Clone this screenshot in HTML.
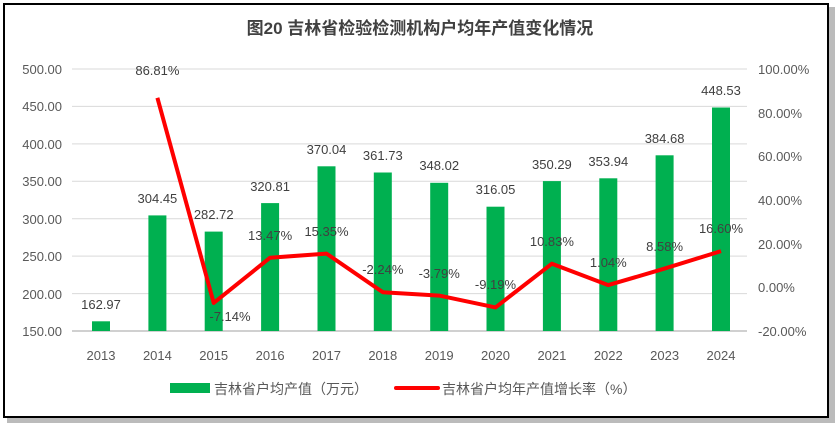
<!DOCTYPE html>
<html><head><meta charset="utf-8"><style>
body{margin:0;background:#fff;}
svg{display:block;font-family:"Liberation Sans","Noto Sans CJK SC",sans-serif;}
</style></head><body>
<svg width="840" height="429" viewBox="0 0 840 429">
<rect x="7" y="7" width="828" height="416" fill="#bbb"/>
<rect x="4" y="4" width="824" height="413" fill="#fff" stroke="#000" stroke-width="2"/>
<text x="420" y="34" text-anchor="middle" font-size="17" font-weight="bold" fill="#404040" font-family="'Liberation Sans','Noto Sans CJK SC',sans-serif">图20  吉林省检验检测机构户均年产值变化情况</text>
<g stroke="#d9d9d9" stroke-width="1">
<line x1="72" x2="747" y1="69" y2="69"/><line x1="72" x2="747" y1="106.4" y2="106.4"/><line x1="72" x2="747" y1="143.9" y2="143.9"/><line x1="72" x2="747" y1="181.3" y2="181.3"/><line x1="72" x2="747" y1="218.7" y2="218.7"/><line x1="72" x2="747" y1="256.1" y2="256.1"/><line x1="72" x2="747" y1="293.6" y2="293.6"/>
</g>
<line x1="72" x2="747" y1="331" y2="331" stroke="#d0d0d0" stroke-width="2"/>
<g font-size="13" fill="#595959" text-anchor="end">
<text x="62" y="74">500.00</text><text x="62" y="111">450.00</text><text x="62" y="149">400.00</text><text x="62" y="186">350.00</text><text x="62" y="224">300.00</text><text x="62" y="261">250.00</text><text x="62" y="299">200.00</text><text x="62" y="336">150.00</text>
</g>
<g font-size="13" fill="#595959" text-anchor="start">
<text x="758" y="74">100.00%</text><text x="758" y="118">80.00%</text><text x="758" y="161">60.00%</text><text x="758" y="205">40.00%</text><text x="758" y="249">20.00%</text><text x="758" y="292">0.00%</text><text x="758" y="336">-20.00%</text>
</g>
<g fill="#00b050">
<rect x="92" y="321.3" width="18" height="9.7"/>
<rect x="148.4" y="215.4" width="18" height="115.6"/>
<rect x="204.7" y="231.6" width="18" height="99.4"/>
<rect x="261.1" y="203.1" width="18" height="127.9"/>
<rect x="317.5" y="166.3" width="18" height="164.7"/>
<rect x="373.8" y="172.5" width="18" height="158.5"/>
<rect x="430.2" y="182.8" width="18" height="148.2"/>
<rect x="486.5" y="206.7" width="18" height="124.3"/>
<rect x="542.9" y="181.1" width="18" height="149.9"/>
<rect x="599.3" y="178.3" width="18" height="152.7"/>
<rect x="655.6" y="155.3" width="18" height="175.7"/>
<rect x="712" y="107.5" width="18" height="223.5"/>
</g>
<g font-size="13" fill="#595959" text-anchor="middle">
<text x="101" y="360">2013</text><text x="157.4" y="360">2014</text><text x="213.7" y="360">2015</text><text x="270.1" y="360">2016</text><text x="326.5" y="360">2017</text><text x="382.8" y="360">2018</text><text x="439.2" y="360">2019</text><text x="495.5" y="360">2020</text><text x="551.9" y="360">2021</text><text x="608.3" y="360">2022</text><text x="664.6" y="360">2023</text><text x="721" y="360">2024</text>
</g>
<g font-size="13" fill="#404040" text-anchor="middle">
<text x="101" y="309">162.97</text><text x="157.4" y="203">304.45</text><text x="213.7" y="219">282.72</text><text x="270.1" y="191">320.81</text><text x="326.5" y="154">370.04</text><text x="382.8" y="160">361.73</text><text x="439.2" y="170">348.02</text><text x="495.5" y="194">316.05</text><text x="551.9" y="169">350.29</text><text x="608.3" y="166">353.94</text><text x="664.6" y="143">384.68</text><text x="721" y="95">448.53</text>
</g>
<polyline fill="none" stroke="#ff0000" stroke-width="4" stroke-linejoin="round" points="157.4,97.8 213.7,302.9 270.1,257.7 326.5,253.6 382.8,292.2 439.2,295.6 495.5,307.4 551.9,263.7 608.3,285.1 664.6,268.6 721,251.1"/>
<g font-size="13" fill="#404040" text-anchor="middle">
<text x="157.4" y="75">86.81%</text><text x="230" y="321">-7.14%</text><text x="270.1" y="240">13.47%</text><text x="326.5" y="236">15.35%</text><text x="382.8" y="274">-2.24%</text><text x="439.2" y="278">-3.79%</text><text x="495.5" y="289">-9.19%</text><text x="551.9" y="246">10.83%</text><text x="608.3" y="267">1.04%</text><text x="664.6" y="251">8.58%</text><text x="721" y="233">16.60%</text>
</g>
<rect x="170" y="383" width="40" height="10" fill="#00b050"/>
<text x="214" y="394" font-size="14" fill="#595959">吉林省户均产值（万元）</text>
<line x1="396" x2="438" y1="388" y2="388" stroke="#ff0000" stroke-width="4" stroke-linecap="round"/>
<text x="442" y="394" font-size="14" fill="#595959">吉林省户均年产值增长率（%）</text>
</svg>
</body></html>
